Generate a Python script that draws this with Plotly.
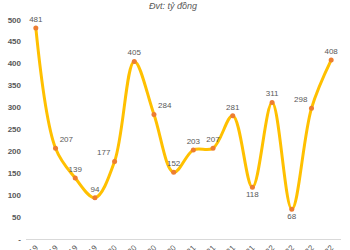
import plotly.graph_objects as go

quarters = ["Q1/2019", "Q2/2019", "Q3/2019", "Q4/2019",
            "Q1/2020", "Q2/2020", "Q3/2020", "Q4/2020",
            "Q1/2021", "Q2/2021", "Q3/2021", "Q4/2021",
            "Q1/2022", "Q2/2022", "Q3/2022", "Q4/2022"]
values = [481, 207, 139, 94, 177, 405, 284, 152, 203, 207, 281, 118, 311, 68, 298, 408]
label_pos = ["top center", "top right", "top center", "top center",
             "top left", "top center", "top right", "top center",
             "top center", "top center", "top center", "bottom center",
             "top center", "bottom center", "top left", "top center"]
ytick_vals = [0, 50, 100, 150, 200, 250, 300, 350, 400, 450, 500]
ytick_text = ["-", "50", "100", "150", "200", "250", "300", "350", "400", "450", "500"]

fig = go.Figure()
fig.add_trace(go.Scatter(
    x=quarters, y=values, mode="lines+markers+text",
    line=dict(color="#FFC000", width=3, shape="spline", smoothing=1.0),
    marker=dict(color="#ED7D31", size=5),
    text=[str(v) for v in values], textposition=label_pos,
    textfont=dict(family="Liberation Sans", size=8, color="#595959"),
    cliponaxis=False, showlegend=False,
))

fig.update_layout(
    width=350, height=250,
    margin=dict(l=26, r=9, t=0, b=11),
    paper_bgcolor="white", plot_bgcolor="white",
    font=dict(family="Liberation Sans", color="#595959"),
    annotations=[dict(text="<i>Đvt: tỷ đồng</i>", x=173, xref="paper", y=6, yref="paper",
                      showarrow=False, font=dict(size=9, color="#595959"))],
)
fig.layout.annotations[0].update(x=(173 - 26) / 315, y=(250 - 11 - 6) / 239, xanchor="center", yanchor="middle")

fig.update_xaxes(
    type="category", range=[-0.5, 15.5], tickangle=-45,
    showgrid=False, showline=True, linecolor="#D9D9D9", linewidth=1,
    ticks="", tickfont=dict(size=8, color="#595959"), automargin=False,
)
fig.update_yaxes(
    range=[0, 545], tickvals=ytick_vals, ticktext=ytick_text,
    showgrid=False, zeroline=False, showline=False,
    tickfont=dict(size=8, color="#595959", weight="bold"), automargin=False,
    ticklabelstandoff=4,
)

fig.write_html("out.html")
